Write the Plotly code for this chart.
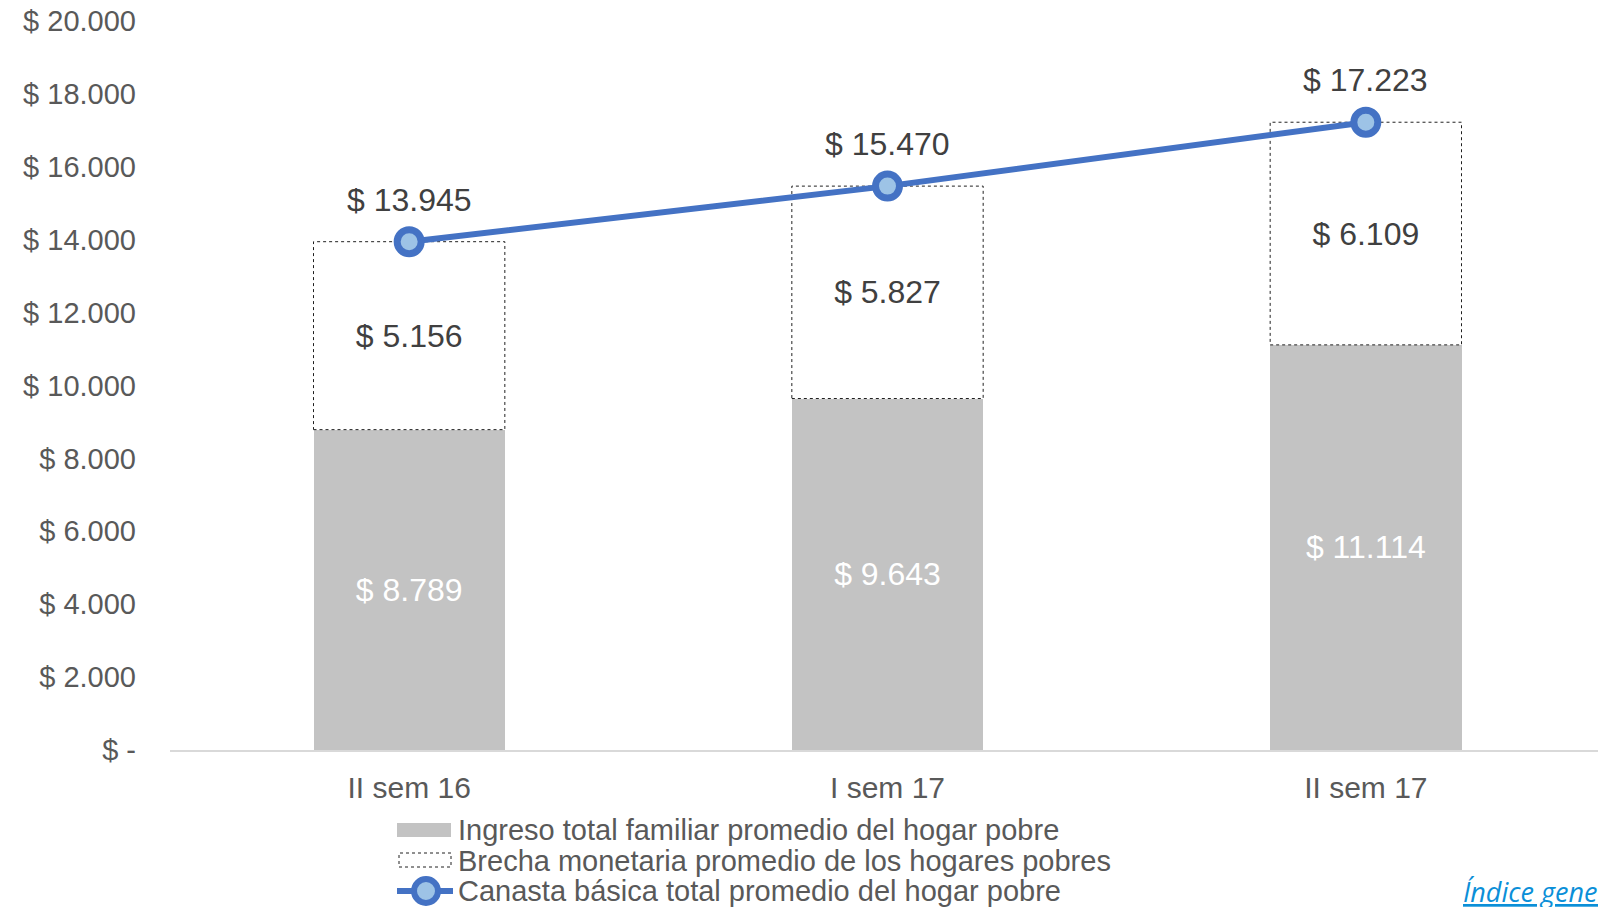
import plotly.graph_objects as go

categories = ["II sem 16", "I sem 17", "II sem 17"]
ingreso = [8789, 9643, 11114]
brecha = [5156, 5827, 6109]
canasta = [13945, 15470, 17223]
tick_values = [0, 2000, 4000, 6000, 8000, 10000, 12000, 14000, 16000, 18000, 20000]

names = [
    "Ingreso total familiar promedio del hogar pobre",
    "Brecha monetaria promedio de los hogares pobres",
    "Canasta básica total promedio del hogar pobre",
]


def fmt(v):
    if v == 0:
        return "$ -"
    return "$ " + f"{v:,}".replace(",", ".")


FONT = "Liberation Sans, Arial, sans-serif"
OFF = 8  # default page body margin
W, H = 1606 - OFF, 907 - OFF
# plot area in page pixels
PL, PR, PT, PB = 170, 1605, 21, 750
L, R, T, B = PL - OFF, PR - OFF, PT - OFF, PB - OFF
BAR_W = 0.4
xpos = list(range(len(categories)))


def px(x):
    return (x - PL) / (PR - PL)


def py(y):
    return (PB - y) / (PB - PT)


fig = go.Figure()
fig.add_trace(go.Bar(
    x=xpos, y=ingreso, name=names[0], width=BAR_W,
    marker=dict(color="#C3C3C3", line=dict(width=0)),
    text=[fmt(v) for v in ingreso], textposition="inside", insidetextanchor="middle",
    textfont=dict(color="white", size=32, family=FONT),
    hoverinfo="skip", showlegend=False,
))
fig.add_trace(go.Bar(
    x=xpos, y=brecha, name=names[1], width=BAR_W,
    marker=dict(color="white", line=dict(width=0)),
    text=[fmt(v) for v in brecha], textposition="inside", insidetextanchor="middle",
    textfont=dict(color="#404040", size=32, family=FONT),
    hoverinfo="skip", showlegend=False,
))

# dotted outline of the "brecha" segments, derived from the data
ox, oy = [], []
for i, (lo, d) in enumerate(zip(ingreso, brecha)):
    hi = lo + d
    ox += [i - BAR_W / 2, i + BAR_W / 2, i + BAR_W / 2, i - BAR_W / 2, i - BAR_W / 2, None]
    oy += [lo, lo, hi, hi, lo, None]
fig.add_trace(go.Scatter(
    x=ox, y=oy, mode="lines", line=dict(color="#202020", width=1, dash="dot"),
    hoverinfo="skip", showlegend=False,
))

fig.add_trace(go.Scatter(
    x=xpos, y=canasta, name=names[2], mode="lines+markers",
    line=dict(color="#4472C4", width=6),
    marker=dict(size=24, color="#9DC3E6", line=dict(color="#4472C4", width=7)),
    hoverinfo="skip", showlegend=False,
))

annotations = []
for i, v in enumerate(canasta):
    annotations.append(dict(
        x=i, y=v, xref="x", yref="y", text=fmt(v), showarrow=False,
        yshift=42, font=dict(size=32, color="#404040", family=FONT),
    ))

# legend (drawn manually to match the compact spacing)
leg_text_x = px(456)
leg_rows = [830, 861, 891]
for name, ry in zip(names, leg_rows):
    annotations.append(dict(
        xref="paper", yref="paper", x=leg_text_x, y=py(ry), xanchor="left", yanchor="middle",
        text=name, showarrow=False, font=dict(size=29, color="#595959", family=FONT),
    ))

annotations.append(dict(
    xref="paper", yref="paper", x=px(1461), y=py(891), xanchor="left", yanchor="middle",
    text="<i><u>Índice general</u></i>", showarrow=False,
    font=dict(family="Open Sans, sans-serif", size=27, color="#0B8FD8"),
))

shapes = [
    dict(type="rect", xref="paper", yref="paper", x0=px(397), x1=px(451), y0=py(837), y1=py(823),
         fillcolor="#C3C3C3", line=dict(width=0)),
    dict(type="rect", xref="paper", yref="paper", x0=px(399), x1=px(451), y0=py(867), y1=py(853),
         fillcolor="white", line=dict(width=1, color="#202020", dash="dot")),
    dict(type="line", xref="paper", yref="paper", x0=px(397), x1=px(453), y0=py(891), y1=py(891),
         line=dict(width=6, color="#4472C4")),
    dict(type="circle", xref="paper", yref="paper", xsizemode="pixel", ysizemode="pixel",
         xanchor=px(426), yanchor=py(891), x0=-12, x1=12, y0=-12, y1=12,
         fillcolor="#9DC3E6", line=dict(width=6, color="#4472C4")),
]

fig.update_layout(
    width=W, height=H,
    margin=dict(l=L, r=W - R, t=T, b=H - B, autoexpand=False),
    barmode="stack",
    plot_bgcolor="white", paper_bgcolor="white",
    font=dict(family=FONT, color="#595959", size=29),
    showlegend=False,
    xaxis=dict(
        showgrid=False, showline=True, linecolor="#D9D9D9", linewidth=2, zeroline=False,
        tickvals=xpos, ticktext=categories, ticks="",
        tickfont=dict(size=30, color="#595959"), ticklabelstandoff=10,
        range=[-0.5, 2.5], automargin=False, ticklabeloverflow="allow",
    ),
    yaxis=dict(
        range=[0, 20000], showgrid=False, zeroline=False, showline=False,
        tickvals=tick_values, ticktext=[fmt(v) for v in tick_values],
        tickfont=dict(size=29, color="#595959"), ticks="", ticklabelstandoff=33,
        automargin=False, ticklabeloverflow="allow",
    ),
    annotations=annotations,
    shapes=shapes,
)

fig.write_html("out.html")
